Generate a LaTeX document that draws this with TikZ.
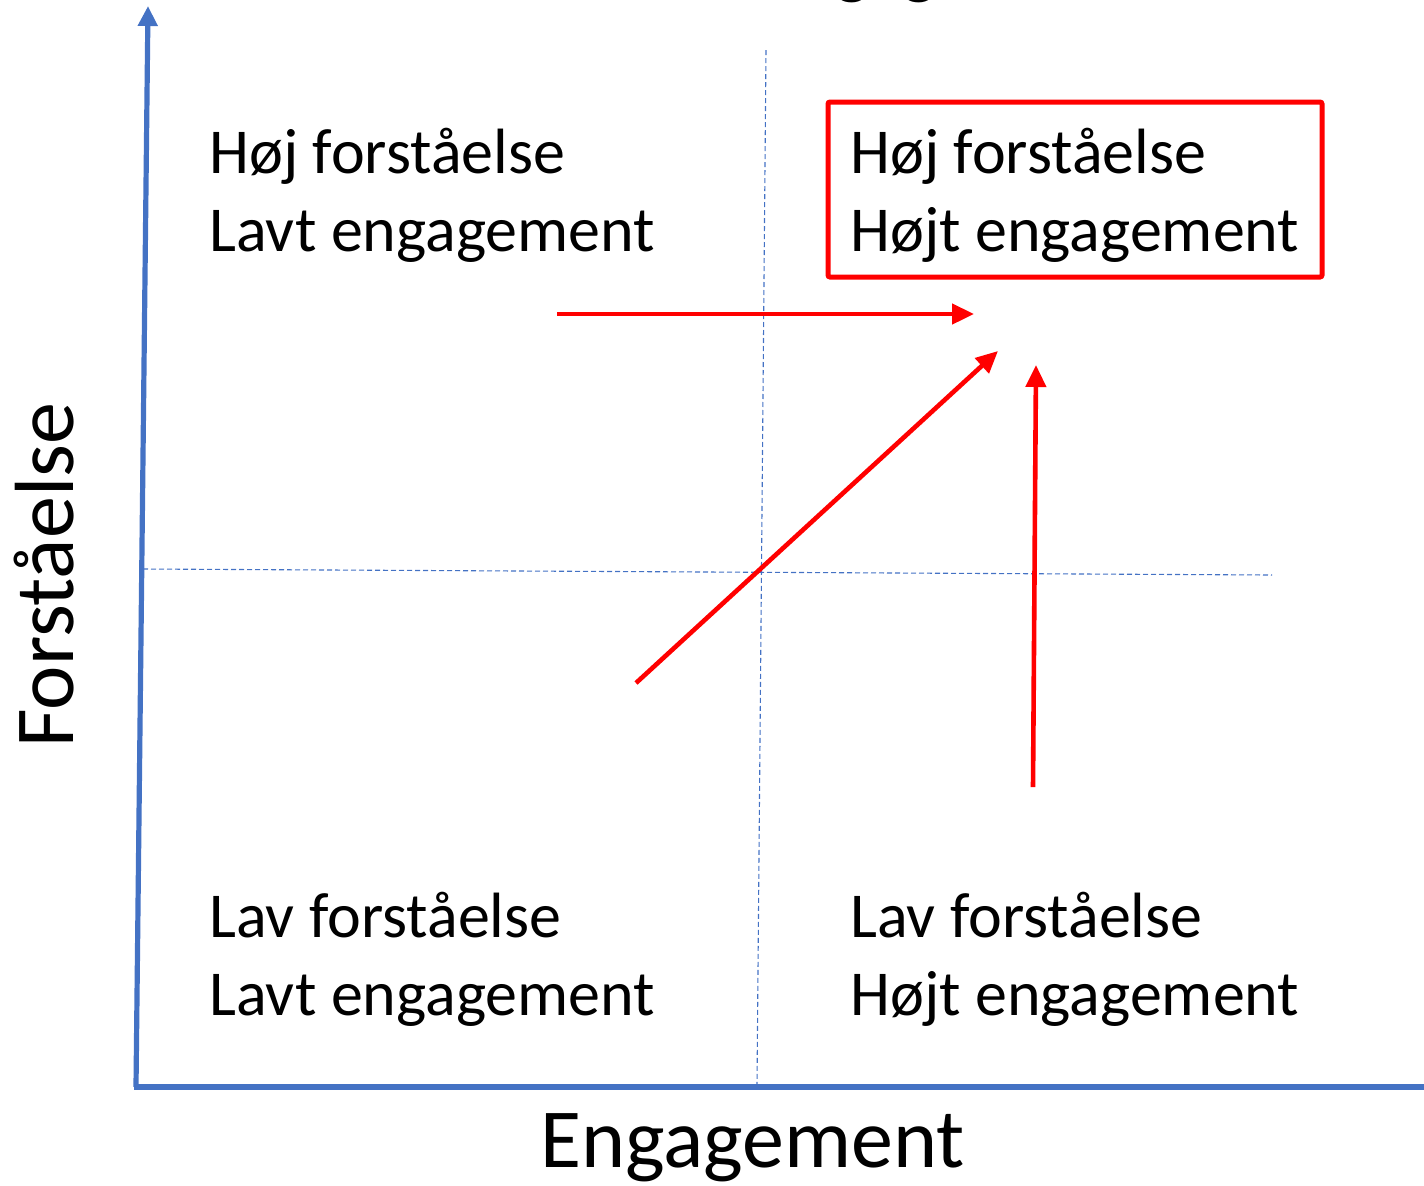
\documentclass[tikz,border=0pt]{standalone}
\usepackage{fontspec}
\setmainfont{Carlito}
\usetikzlibrary{arrows.meta}
\definecolor{axisblue}{RGB}{68,114,196}
\definecolor{arrred}{RGB}{255,0,0}
\begin{document}
\begin{tikzpicture}[x=0.5pt,y=-0.5pt,
  axis/.style={draw=axisblue,line width=2.6pt,-{Triangle[length=10pt,width=9.5pt]}},
  axisplain/.style={draw=axisblue,line width=2.6pt},
  guide/.style={draw=axisblue,line width=0.55pt,dash pattern=on 2.5pt off 1.5pt},
  move/.style={draw=arrred,line width=2.3pt,-{Triangle[length=11pt,width=10pt]}},
  quad/.style={font=\fontsize{32pt}{39pt}\selectfont,align=left,inner sep=0pt,anchor=base west},
  axlabel/.style={font=\fontsize{42pt}{50pt}\selectfont,inner sep=0pt},
  goal/.style={draw=arrred,line width=2.5pt,rounded corners=1pt,minimum width=247pt,minimum height=87.5pt}]
\useasboundingbox (0,0) rectangle (1424,1185);
% cut-off title at top edge
\begin{scope}
\clip (0,0) rectangle (1424,1185);
\node[inner sep=0pt,font=\fontsize{36pt}{43pt}\selectfont,anchor=base west] (title) at (762,-10) {Engagement};
\end{scope}
% coordinates
\coordinate (o) at (136,1087);
\coordinate (ytop) at (148,6);
\coordinate (xend) at (1424,1087);
\coordinate (vtop) at (766,50);
\coordinate (vbot) at (757,1085);
\coordinate (hl) at (143,569);
\coordinate (hr) at (1272,575);
% guide lines
\draw[guide] (vtop) -- (vbot);
\draw[guide] (hl) -- (hr);
% axes
\draw[axis] (o) -- (ytop);
\draw[axisplain] (134,1087) -- (xend);
% quadrant texts
\node[quad] (hl1) at (209,251) {Høj forståelse\\Lavt engagement};
\node[quad] (hh1) at (850,251) {Høj forståelse\\Højt engagement};
\node[quad] (ll1) at (209,1015) {Lav forståelse\\Lavt engagement};
\node[quad] (lh1) at (850,1015) {Lav forståelse\\Højt engagement};
% goal box
\node[goal] (box) at (1075,189.5) {};
% axis labels
\node[axlabel,anchor=base west] (xlab) at (540,1167) {Engagement};
\node[axlabel,anchor=base west,rotate=90] (ylab) at (73,748) {Forståelse};
% red arrows
\coordinate (a1s) at (557,314);
\coordinate (a1e) at (974,314);
\coordinate (a2s) at (636,683);
\coordinate (a2e) at (998,351);
\coordinate (a3s) at (1033,787);
\coordinate (a3e) at (1036,365);
\draw[move] (a1s) -- (a1e);
\draw[move] (a2s) -- (a2e);
\draw[move] (a3s) -- (a3e);
\end{tikzpicture}
\end{document}
